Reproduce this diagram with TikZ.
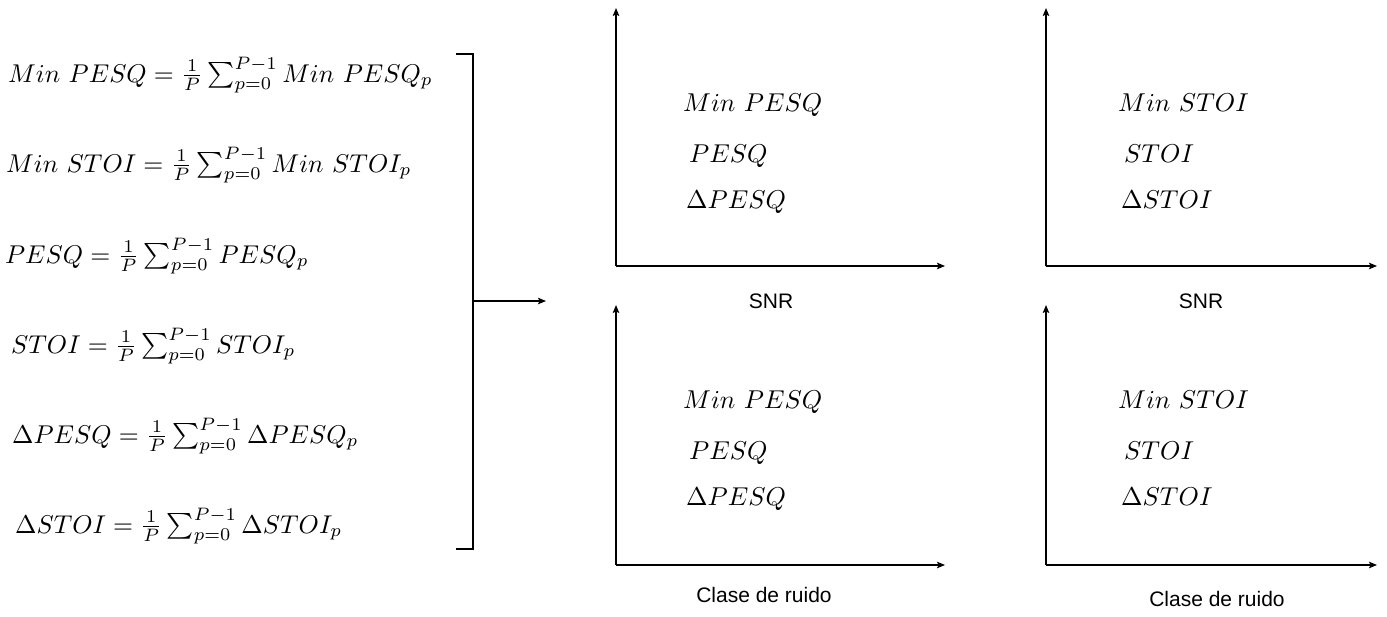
\documentclass[tikz,border=0pt]{standalone}
\usepackage{graphicx}
\usepackage{fontspec}
\newfontfamily\arialfont{Liberation Sans}
\usetikzlibrary{arrows.meta}
\newcommand{\eqs}[1]{\scalebox{2.57}{$#1$}}
\newcommand{\lbs}[1]{\scalebox{2.58}{$#1$}}
\begin{document}
\begin{tikzpicture}[x=1pt,y=-1pt,
  eq/.style={anchor=base west, inner sep=0pt},
  lbl/.style={anchor=base west, inner sep=0pt},
  axlbl/.style={inner sep=0pt, font=\arialfont\fontsize{21}{25}\selectfont},
  axisline/.style={line width=1.3pt, -{Stealth[length=8pt,width=6.5pt,inset=1.5pt]}},
  bracketline/.style={line width=1.8pt},
  flow/.style={line width=1.2pt, -{Stealth[length=8pt,width=6.5pt,inset=1.5pt]}}]
\useasboundingbox (0,0) rectangle (1387,616);
% formulas
\node[eq] (f1) at (8,82)  {\eqs{Min\ PESQ=\frac{1}{P}\sum_{p=0}^{P-1} Min\ PESQ_p}};
\node[eq] (f2) at (6,172) {\eqs{Min\ STOI=\frac{1}{P}\sum_{p=0}^{P-1} Min\ STOI_p}};
\node[eq] (f3) at (5,263) {\eqs{PESQ=\frac{1}{P}\sum_{p=0}^{P-1} PESQ_p}};
\node[eq] (f4) at (11,353) {\eqs{STOI=\frac{1}{P}\sum_{p=0}^{P-1} STOI_p}};
\node[eq] (f5) at (12,443) {\eqs{\Delta PESQ=\frac{1}{P}\sum_{p=0}^{P-1} \Delta PESQ_p}};
\node[eq] (f6) at (15,533) {\eqs{\Delta STOI=\frac{1}{P}\sum_{p=0}^{P-1} \Delta STOI_p}};
% bracket and arrow
\coordinate (bt) at (456,54);
\coordinate (btr) at (473,54);
\coordinate (bbr) at (473,549);
\coordinate (bb) at (456,549);
\draw[bracketline] (bt) -- (btr) -- (bbr) -- (bb);
\coordinate (bm) at (473,301);
\coordinate (ae) at (546,301);
\draw[flow] (bm) -- (ae);
% axes
\foreach \nm/\ox/\oy/\tx/\ty in {a/616/266/945/8, b/1046/266/1377/8, c/616/565/945/305, d/1046/565/1377/305}{
  \coordinate (\nm o) at (\ox,\oy);
  \coordinate (\nm x) at (\tx,\oy);
  \coordinate (\nm y) at (\ox,\ty);
  \draw[axisline] (\nm o) -- (\nm y);
  \draw[axisline] (\nm o) -- (\nm x);
}
% axis labels
\node[axlbl] (sa) at (771,301) {SNR};
\node[axlbl] (sb) at (1201,301) {SNR};
\node[axlbl] (sc) at (764,595) {Clase de ruido};
\node[axlbl] (sd) at (1217,599) {Clase de ruido};
% panel labels
\node[lbl] (a1) at (683,111) {\lbs{Min\ PESQ}};
\node[lbl] (a2) at (689,162) {\lbs{PESQ}};
\node[lbl] (a3) at (686,208) {\lbs{\Delta PESQ}};
\node[lbl] (b1) at (1118,111) {\lbs{Min\ STOI}};
\node[lbl] (b2) at (1124,162) {\lbs{STOI}};
\node[lbl] (b3) at (1121,208) {\lbs{\Delta STOI}};
\node[lbl] (c1) at (683,408) {\lbs{Min\ PESQ}};
\node[lbl] (c2) at (689,459) {\lbs{PESQ}};
\node[lbl] (c3) at (686,505) {\lbs{\Delta PESQ}};
\node[lbl] (d1) at (1118,408) {\lbs{Min\ STOI}};
\node[lbl] (d2) at (1124,459) {\lbs{STOI}};
\node[lbl] (d3) at (1121,505) {\lbs{\Delta STOI}};
\end{tikzpicture}
\end{document}
